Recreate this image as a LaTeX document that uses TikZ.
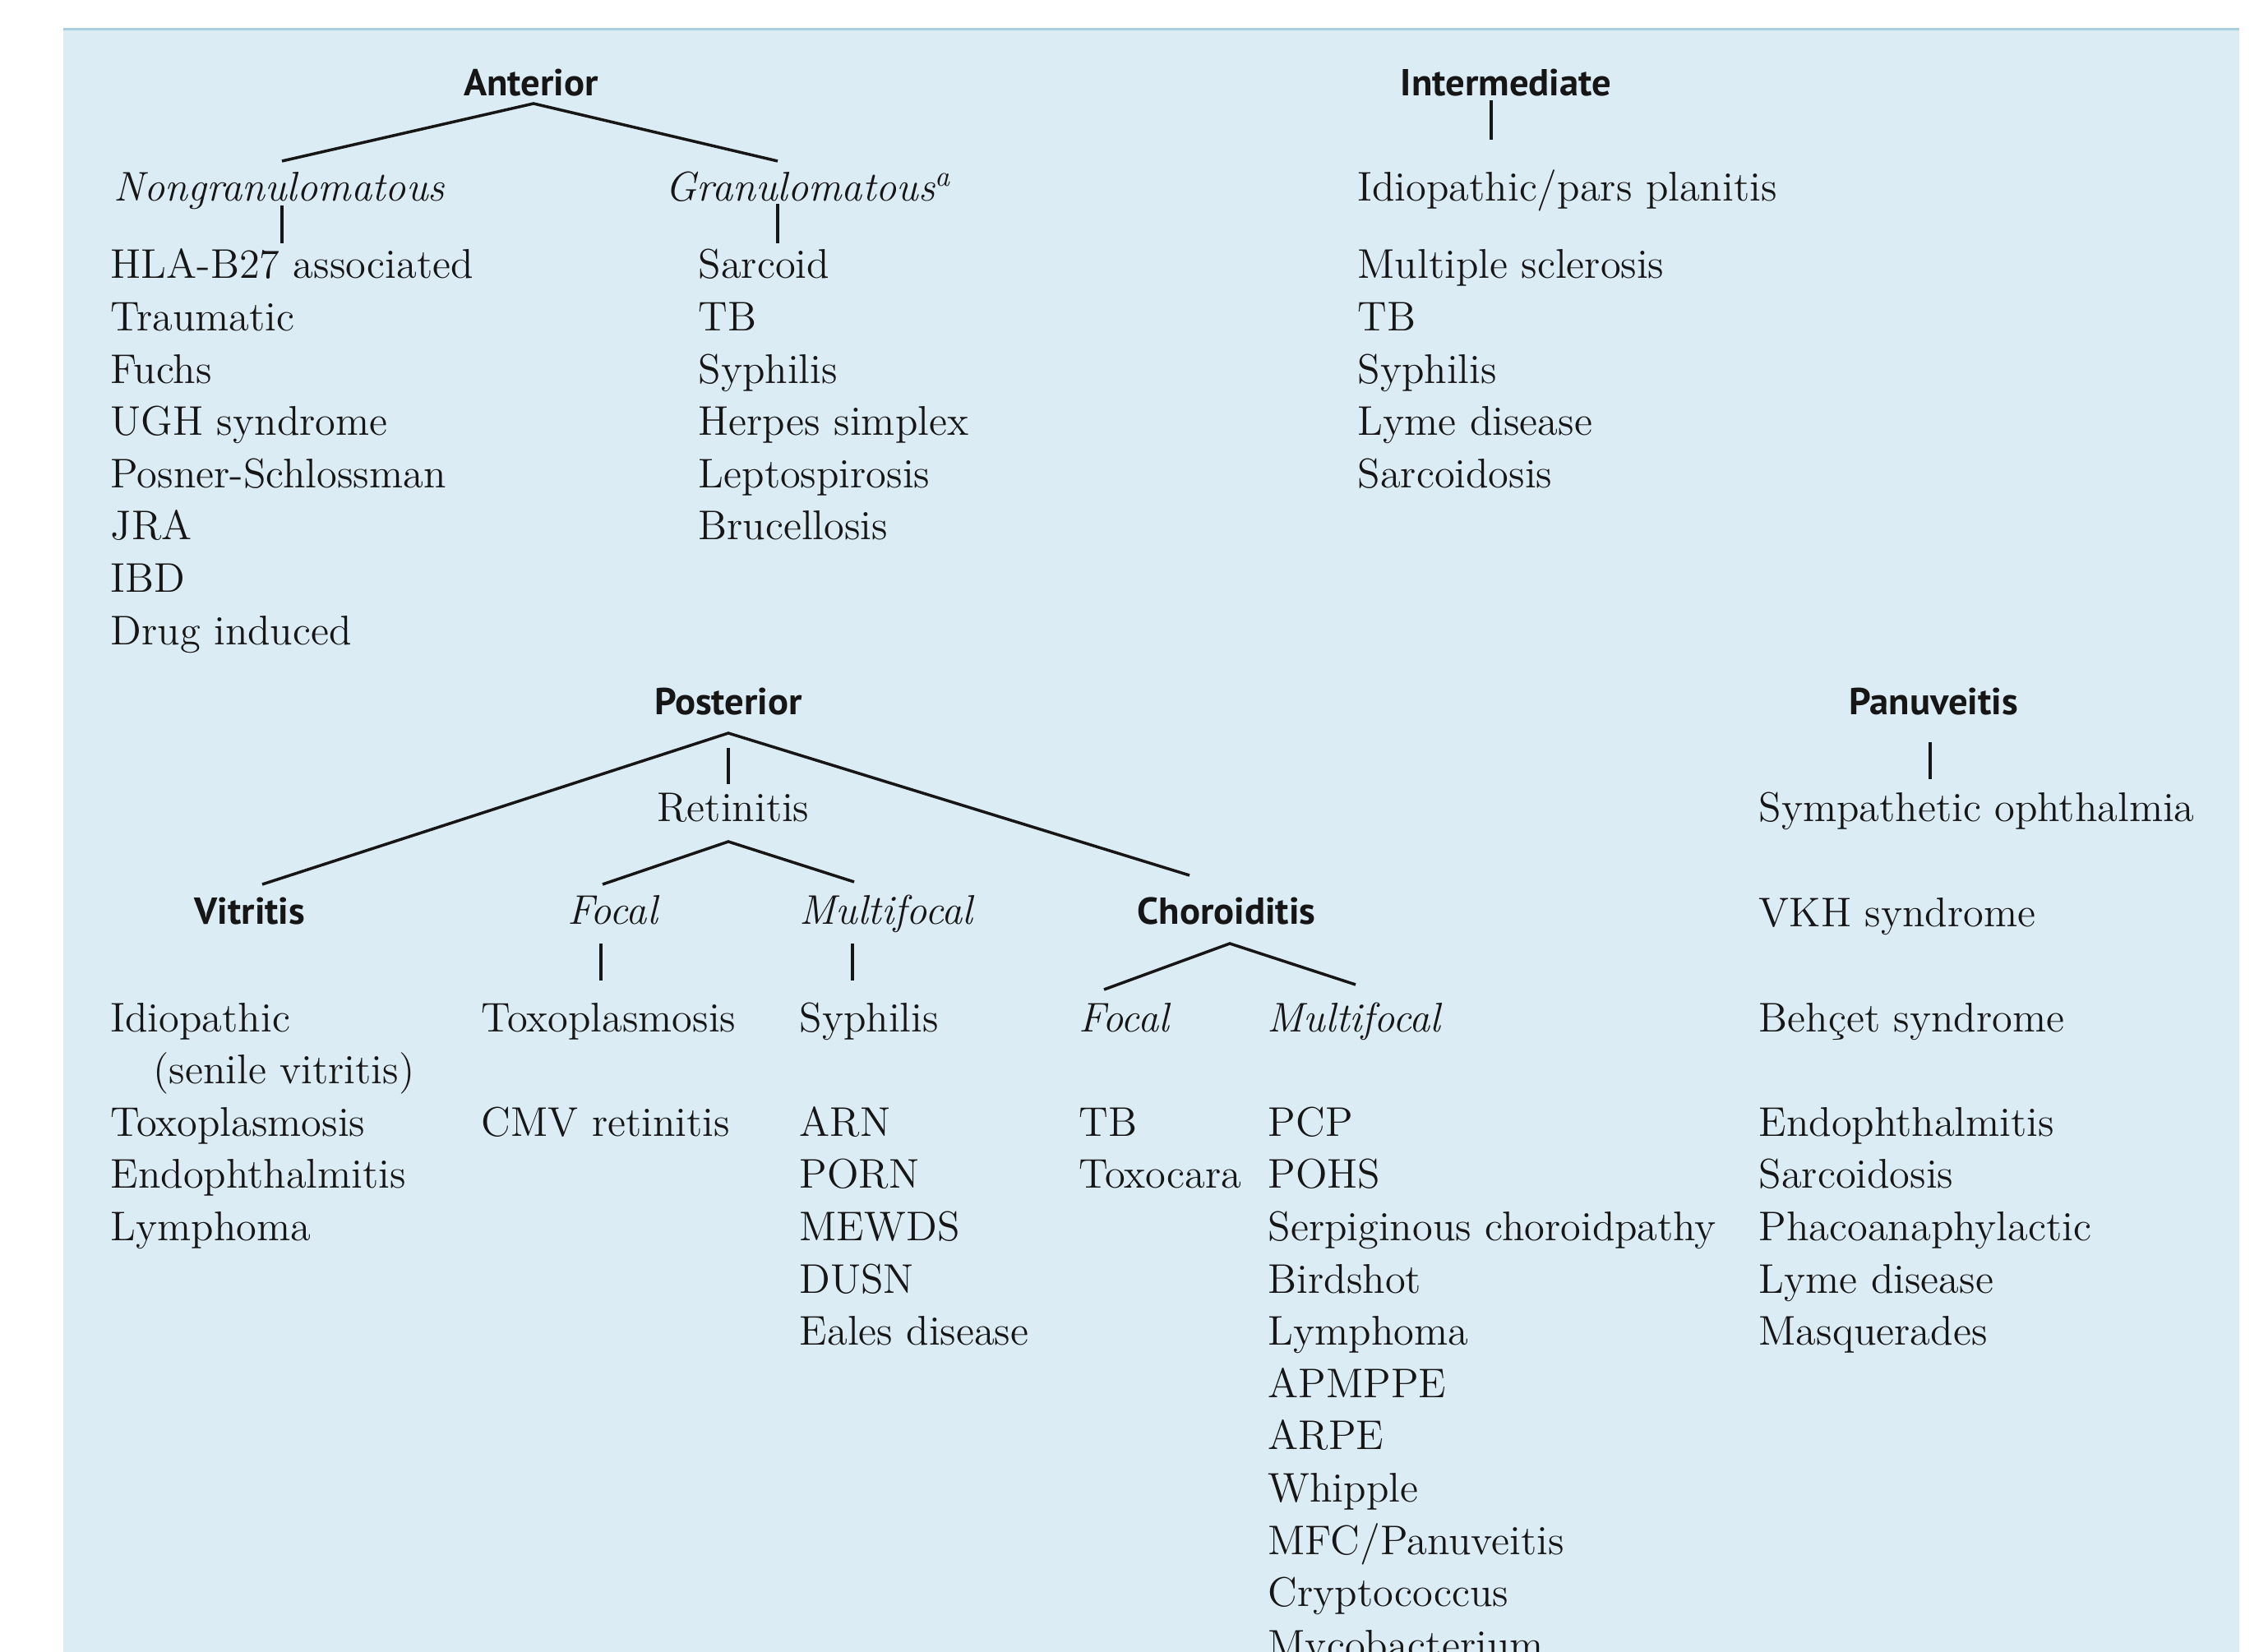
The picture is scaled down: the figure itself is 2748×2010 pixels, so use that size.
\documentclass[tikz,border=0pt]{standalone}
\usepackage{fontspec}
\newfontfamily\headfont[FakeStretch=1.02]{PT Sans}
\definecolor{panel}{RGB}{220,236,245}
\definecolor{panelEdge}{RGB}{168,208,228}
\definecolor{ink}{RGB}{22,22,22}
\tikzset{
  item/.style={anchor=base west, inner sep=0pt, text=ink, font=\fontsize{14.35pt}{17pt}\selectfont},
  itemit/.style={item, font=\fontsize{14.35pt}{17pt}\selectfont\itshape},
  itemc/.style={item, anchor=base},
  itemcit/.style={itemit, anchor=base},
  head/.style={anchor=base, inner sep=0pt, text=ink, font=\headfont\bfseries\fontsize{13pt}{16pt}\selectfont},
  link/.style={draw=ink, line width=1pt},
}
\begin{document}
\begin{tikzpicture}[x=0.01cm,y=-0.01cm]
\useasboundingbox (0,0) rectangle (2748,2010);
\fill[panel] (77,34) rectangle (2724,2060);
\draw[panelEdge, line width=0.9pt] (77,35.5) -- (2724,35.5);

% ---------- Anterior ----------
\node[head] (ant) at (646,117) {Anterior};
\node[head] (inter) at (1832,117) {Intermediate};
\node[itemit] (nongran) at (138,245) {Nongranulomatous};
\node[itemit] (gran) at (809,245) {Granulomatous\textsuperscript{a}};
\node[item] (pars) at (1651,245) {Idiopathic/pars planitis};

\foreach \t [count=\i from 0] in {HLA-B27 associated,Traumatic,Fuchs,UGH syndrome,Posner-Schlossman,JRA,IBD,Drug induced}
  \node[item] (ng\i) at (134,{339+63.6*\i}) {\t};
\foreach \t [count=\i from 0] in {Sarcoid,TB,Syphilis,Herpes simplex,Leptospirosis,Brucellosis}
  \node[item] (gr\i) at (849,{339+63.6*\i}) {\t};
\foreach \t [count=\i from 0] in {Multiple sclerosis,TB,Syphilis,Lyme disease,Sarcoidosis}
  \node[item] (im\i) at (1651,{339+63.6*\i}) {\t};

\coordinate (antApex) at (649,126);
\coordinate (antL) at (343,196);
\coordinate (antR) at (946,196);
\coordinate (ngTop) at (343,250);
\coordinate (ngBot) at (343,296);
\coordinate (grTop) at (946,248);
\coordinate (grBot) at (946,296);
\coordinate (imTop) at (1814,122);
\coordinate (imBot) at (1814,170);
\draw[link] (antL) -- (antApex) -- (antR);
\draw[link] (ngTop) -- (ngBot);
\draw[link] (grTop) -- (grBot);
\draw[link] (imTop) -- (imBot);

% ---------- Posterior ----------
\node[head] (post) at (886,870) {Posterior};
\node[head] (pan) at (2352,870) {Panuveitis};
\node[itemc] (ret) at (892,1000) {Retinitis};
\node[head] (vit) at (304,1124) {Vitritis};
\node[itemcit] (rfocal) at (745,1124) {Focal};
\node[itemcit] (rmulti) at (1078,1124) {Multifocal};
\node[head] (chor) at (1492,1124) {Choroiditis};
\node[itemit] (cfocal) at (1312,1255) {Focal};
\node[itemit] (cmulti) at (1541,1255) {Multifocal};

\coordinate (postApex) at (886,892);
\coordinate (postL) at (319,1076);
\coordinate (postR) at (1447,1065);
\coordinate (postVt) at (886,910);
\coordinate (postVb) at (886,954);
\draw[link] (postL) -- (postApex) -- (postR);
\draw[link] (postVt) -- (postVb);

\coordinate (retApex) at (886,1024);
\coordinate (retL) at (733,1076);
\coordinate (retR) at (1039,1073);
\draw[link] (retL) -- (retApex) -- (retR);

\coordinate (rfT) at (731,1148);
\coordinate (rfB) at (731,1193);
\coordinate (rmT) at (1037,1148);
\coordinate (rmB) at (1037,1193);
\draw[link] (rfT) -- (rfB);
\draw[link] (rmT) -- (rmB);

\coordinate (chApex) at (1496,1148);
\coordinate (chL) at (1343,1204);
\coordinate (chR) at (1649,1198);
\draw[link] (chL) -- (chApex) -- (chR);

\coordinate (panT) at (2348,903);
\coordinate (panB) at (2348,948);
\draw[link] (panT) -- (panB);

% lists
\node[item] (vi0) at (134,1255) {Idiopathic};
\node[item] (vi0b) at (186,1318.6) {(senile vitritis)};
\foreach \t [count=\i from 1] in {Toxoplasmosis,Endophthalmitis,Lymphoma}
  \node[item] (vi\i) at (134,{1382.2+63.6*(\i-1)}) {\t};

\node[item] (rf0) at (585,1255) {Toxoplasmosis};
\node[item] (rf1) at (585,1382.2) {CMV retinitis};

\node[item] (rm0) at (972,1255) {Syphilis};
\foreach \t [count=\i from 1] in {ARN,PORN,MEWDS,DUSN,Eales disease}
  \node[item] (rm\i) at (972,{1382.2+63.6*(\i-1)}) {\t};

\foreach \t [count=\i from 0] in {TB,Toxocara}
  \node[item] (cf\i) at (1312,{1382.2+63.6*\i}) {\t};

\foreach \t [count=\i from 0] in {PCP,POHS,Serpiginous choroidpathy,Birdshot,Lymphoma,APMPPE,ARPE,Whipple,MFC/Panuveitis,Cryptococcus,Mycobacterium}
  \node[item] (cm\i) at (1542,{1382.2+63.6*\i}) {\t};

\node[item] (pa0) at (2139,1000) {Sympathetic ophthalmia};
\node[item] (pa1) at (2139,1127) {VKH syndrome};
\node[item] (pa2) at (2139,1255) {Behçet syndrome};
\foreach \t [count=\i from 3] in {Endophthalmitis,Sarcoidosis,Phacoanaphylactic,Lyme disease,Masquerades}
  \node[item] (pa\i) at (2139,{1382.2+63.6*(\i-3)}) {\t};
\end{tikzpicture}
\end{document}
